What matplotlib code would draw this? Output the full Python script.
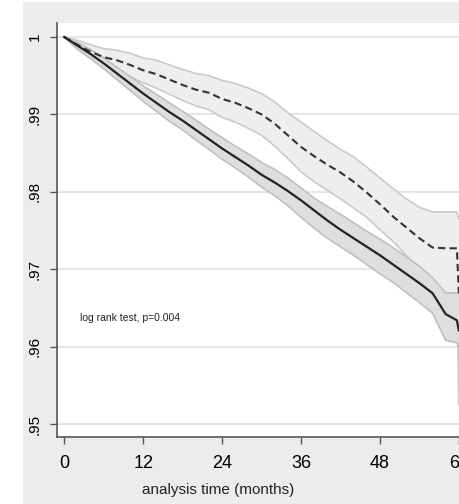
import numpy as np
from matplotlib import pyplot as plt
from matplotlib.patches import Rectangle

# months
t = [0, 2, 4, 6, 8, 10, 12, 14, 16, 18, 20, 22, 24, 26, 28, 30,
     32, 34, 36, 38, 40, 42, 44, 46, 48, 50, 52, 54, 56, 58, 59.7, 60]

# solid curve + CI
s_surv = [1.0, 0.9989, 0.9978, 0.9966, 0.9953, 0.9940, 0.9927, 0.9915, 0.9903, 0.9892, 0.9880,
          0.9868, 0.9856, 0.9845, 0.9834, 0.9822, 0.9812, 0.9801, 0.9789, 0.9776, 0.9763,
          0.9751, 0.9740, 0.9729, 0.9718, 0.9706, 0.9694, 0.9682, 0.9669, 0.9642, 0.9634, 0.9621]
s_lo = [1.0, 0.9985, 0.9972, 0.9959, 0.9945, 0.9931, 0.9917, 0.9904, 0.9891, 0.9880, 0.9867,
        0.9855, 0.9842, 0.9831, 0.9819, 0.9806, 0.9795, 0.9782, 0.9767, 0.9753, 0.9740,
        0.9729, 0.9718, 0.9706, 0.9694, 0.9683, 0.9670, 0.9657, 0.9643, 0.9608, 0.9605, 0.9600]
s_hi = [1.0, 0.9993, 0.9984, 0.9973, 0.9961, 0.9949, 0.9937, 0.9926, 0.9915, 0.9904, 0.9893,
        0.9881, 0.9870, 0.9859, 0.9849, 0.9838, 0.9829, 0.9818, 0.9805, 0.9792, 0.9781,
        0.9771, 0.9760, 0.9749, 0.9739, 0.9728, 0.9716, 0.9704, 0.9689, 0.9669, 0.9669, 0.9669]

# dashed curve + CI
d_surv = [1.0, 0.9990, 0.9981, 0.9974, 0.9970, 0.9964, 0.9957, 0.9952, 0.9945, 0.9938, 0.9932,
          0.9928, 0.9920, 0.9915, 0.9908, 0.9900, 0.9888, 0.9873, 0.9858, 0.9846, 0.9835,
          0.9825, 0.9813, 0.9799, 0.9784, 0.9768, 0.9754, 0.9740, 0.9728, 0.9727, 0.9727, 0.9669]
d_lo = [1.0, 0.9984, 0.9972, 0.9963, 0.9957, 0.9949, 0.9941, 0.9934, 0.9926, 0.9918, 0.9911,
        0.9906, 0.9896, 0.9890, 0.9882, 0.9873, 0.9859, 0.9843, 0.9826, 0.9813, 0.9802,
        0.9791, 0.9779, 0.9767, 0.9751, 0.9736, 0.9718, 0.9698, 0.9676, 0.9669, 0.9669, 0.9525]
d_hi = [1.0, 0.9996, 0.9990, 0.9985, 0.9983, 0.9979, 0.9973, 0.9970, 0.9964, 0.9958, 0.9953,
        0.9950, 0.9944, 0.9940, 0.9934, 0.9927, 0.9916, 0.9902, 0.9890, 0.9878, 0.9866,
        0.9855, 0.9845, 0.9832, 0.9818, 0.9804, 0.9791, 0.9780, 0.9774, 0.9774, 0.9774, 0.9765]

xticks = [0, 12, 24, 36, 48, 60]
yticks = [0.95, 0.96, 0.97, 0.98, 0.99, 1.0]
ylabels = [".95", ".96", ".97", ".98", ".99", "1"]

font = "Liberation Sans"

fig = plt.figure(figsize=(4.59, 5.04), dpi=100, facecolor="white")
bg = Rectangle((23/459, 0), 1, 502/504, transform=fig.transFigure,
               facecolor="#ececec", edgecolor="none", zorder=-5)
fig.add_artist(bg)

ax = fig.add_axes([57/459, 67/504, 415/459, 414/504])
ax.set_zorder(1)
ax.set_facecolor("white")

ax.fill_between(t, d_lo, d_hi, facecolor="#eeeeee", edgecolor="none", zorder=1)
ax.plot(t, d_lo, color="#cacaca", lw=1.2, zorder=2)
ax.plot(t, d_hi, color="#cacaca", lw=1.2, zorder=2)
ax.fill_between(t, s_lo, s_hi, facecolor="#dedede", edgecolor="none", zorder=3)
ax.plot(t, s_lo, color="#c0c0c0", lw=1.2, zorder=4)
ax.plot(t, s_hi, color="#c0c0c0", lw=1.2, zorder=4)

ax.plot(t, d_surv, color="#333333", lw=1.5, linestyle=(0, (3.5, 2)), zorder=5)
ax.plot(t, s_surv, color="#222222", lw=1.6, zorder=6)

ax.set_xlim(-1.1, 62)
ax.set_ylim(0.94832, 1.00181)
ax.set_xticks(xticks)
ax.set_xticklabels([str(x) for x in xticks], family=font, fontsize=13)
ax.set_yticks(yticks)
ax.set_yticklabels(ylabels, rotation=90, va="center", family=font, fontsize=11)
ax.yaxis.grid(True, color="#e6e6e6", lw=1.5)
ax.set_axisbelow(True)
ax.tick_params(axis="both", direction="out", length=5, color="#555555", width=1)
ax.tick_params(axis="x", pad=8)
ax.tick_params(axis="y", pad=6)
for side in ["top", "right"]:
    ax.spines[side].set_visible(False)
for side in ["left", "bottom"]:
    ax.spines[side].set_color("#555555")
    ax.spines[side].set_linewidth(1.2)

ax.text(2.4, 0.9637, "log rank test, p=0.004", family=font, fontsize=7.5,
        va="center", ha="left", color="#222222")

fig.text(218/459, 14/504, "analysis time (months)", family=font, fontsize=11,
         ha="center", va="center", color="#222222")

fig.savefig("out.png", dpi=100)
